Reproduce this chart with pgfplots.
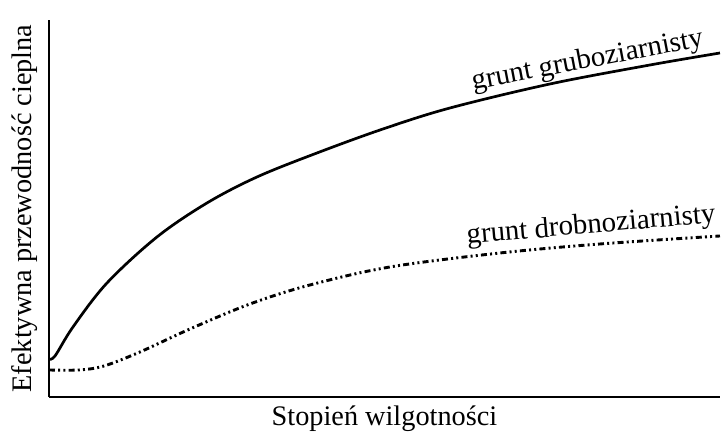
\documentclass[border=0pt]{standalone}
\usepackage{pgfplots}
\pgfplotsset{compat=1.18}
\usepackage{fontspec}
\setmainfont{Liberation Serif}
\begin{document}
\begin{tikzpicture}
\begin{axis}[
  scale only axis,
  width=335.5bp, height=188.5bp,
  xmin=0, xmax=671, ymin=0, ymax=377,
  axis x line=bottom, axis y line=left,
  axis line style={-, line width=1bp},
  xtick=\empty, ytick=\empty,
  clip=false,
  xlabel={\fontsize{14.2}{16}\selectfont Stopień wilgotności},
  ylabel={\fontsize{14.2}{16}\selectfont Efektywna przewodność cieplna},
  xlabel style={yshift=1bp},
]
\addplot[black, line width=1.35bp, smooth, tension=0.55] coordinates {
(0,38) (6,41) (24,70) (58,114) (108,160) (158,194) (208,220) (268,244) (334,268) (401,289) (501,313) (601,332) (671,344)};
\addplot[black, line width=1.45bp, smooth, tension=0.55,
  dash pattern=on 3bp off 1.6bp on 1bp off 1.6bp on 1bp off 1.6bp] coordinates {
(0,27) (30,27) (55,31) (91,45) (141,68) (201,93) (261,112) (341,130) (451,144) (551,153) (671,161)};
\node[anchor=base west, inner sep=0pt, rotate=10.8, font=\fontsize{14.5}{16}\selectfont] at (axis cs:424,307) {grunt gruboziarnisty};
\node[anchor=base west, inner sep=0pt, rotate=5, font=\fontsize{14.5}{16}\selectfont] at (axis cs:418,153) {grunt drobnoziarnisty};
\path (rel axis cs:-0.073,-0.0875) rectangle (rel axis cs:1.0075,1.053);
\end{axis}
\end{tikzpicture}
\end{document}
